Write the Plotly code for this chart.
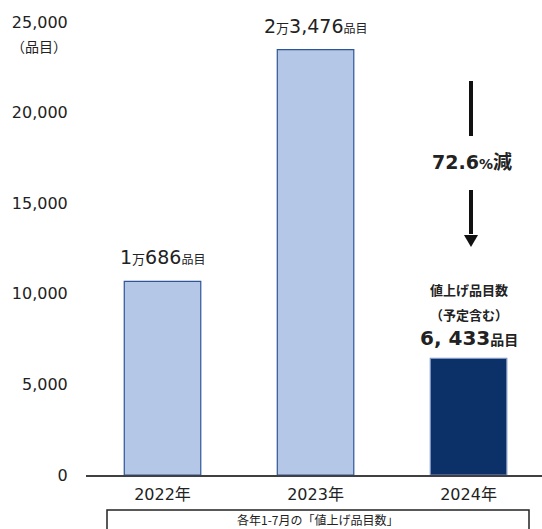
import plotly.graph_objects as go

years = ["2022年", "2023年", "2024年"]
values = [10686, 23476, 6433]
bar_labels = [
    "1<span style='font-size:13px'>万</span>686<span style='font-size:12px'>品目</span>",
    "2<span style='font-size:13px'>万</span>3,476<span style='font-size:12px'>品目</span>",
]
tick_vals = [0, 5000, 10000, 15000, 20000, 25000]
tick_text = ["0", "5,000", "10,000", "15,000", "20,000", "25,000"]
fill_colors = ["#b4c7e7", "#b4c7e7", "#0c3169"]
line_colors = ["#2f5597", "#2f5597", "#7f96c0"]

FONT = "DejaVu Sans, Noto Sans CJK JP, sans-serif"
TXT = "#222222"

fig = go.Figure()
fig.add_trace(go.Bar(
    x=list(range(len(years))), y=values, width=0.5,
    marker=dict(color=fill_colors, line=dict(color=line_colors, width=1.2)),
    hoverinfo="skip",
))

annotations = []
for i, lab in enumerate(bar_labels):
    annotations.append(dict(x=i, y=values[i], xref="x", yref="y", text=lab,
                            showarrow=False, yanchor="bottom", yshift=11,
                            font=dict(family=FONT, size=19, color=TXT)))

# 2024 label block
annotations.append(dict(x=2.0, y=values[2], xref="x", yref="y",
                        text="<b>6, 433<span style='font-size:14px'>品目</span></b>",
                        showarrow=False, yanchor="bottom", yshift=6,
                        font=dict(family=FONT, size=20, color=TXT)))
annotations.append(dict(x=2.0, y=values[2], xref="x", yref="y",
                        text="<b>値上げ品目数</b>", showarrow=False, yanchor="middle", yshift=69,
                        font=dict(family="Noto Sans CJK JP", size=13, color=TXT)))
annotations.append(dict(x=2.0, y=values[2], xref="x", yref="y",
                        text="<b>（予定含む）</b>", showarrow=False, yanchor="middle", yshift=44,
                        font=dict(family="Noto Sans CJK JP", size=13, color=TXT)))

# decrease annotation
pct = (values[1] - values[2]) / values[1] * 100
annotations.append(dict(x=2.02, y=17250, xref="x", yref="y",
                        text=f"<b>{pct:.1f}<span style='font-size:14px'>%</span>減</b>",
                        showarrow=False, yanchor="middle",
                        font=dict(family=FONT, size=19, color=TXT)))

# unit label
annotations.append(dict(x=-0.103, y=(475 - 46) / 453, xref="paper", yref="paper", text="（品目）",
                        showarrow=False, yanchor="middle", xanchor="center",
                        font=dict(family="Noto Sans CJK JP", size=14, color=TXT)))

# bottom note
annotations.append(dict(x=(318 - 86) / 456, y=(475 - 519) / 453, xref="paper", yref="paper",
                        text="各年1-7月の「値上げ品目数」",
                        showarrow=False, yanchor="middle", xanchor="center",
                        font=dict(family="Noto Sans CJK JP", size=12, color=TXT)))

shapes = [
    # arrow upper segment
    dict(type="line", xref="x", yref="y", x0=2.016, x1=2.016, y0=21744, y1=18709,
         line=dict(color="#111111", width=4)),
    # arrow lower segment
    dict(type="line", xref="x", yref="y", x0=2.016, x1=2.016, y0=15729, y1=13300,
         line=dict(color="#111111", width=4)),
    # arrowhead
    dict(type="path", xref="x", yref="y",
         path="M 1.970 13245 L 2.062 13245 L 2.016 12583 Z",
         fillcolor="#111111", line=dict(color="#111111", width=0)),
    # bottom box (extends beyond the bottom edge)
    dict(type="rect", xref="paper", yref="paper",
         x0=(107 - 86) / 456, x1=(529 - 86) / 456,
         y0=(475 - 545) / 453, y1=(475 - 510) / 453,
         line=dict(color="#222222", width=1.5), fillcolor="rgba(0,0,0,0)"),
]

fig.update_layout(
    width=542, height=529,
    margin=dict(l=86, r=0, t=22, b=54),
    paper_bgcolor="white", plot_bgcolor="white",
    showlegend=False,
    bargap=0.5,
    annotations=annotations,
    shapes=shapes,
    font=dict(family=FONT, color=TXT),
    xaxis=dict(range=[-0.5, 2.48], tickmode="array", tickvals=list(range(len(years))),
               ticktext=years, showgrid=False, zeroline=False,
               showline=True, linecolor="#404040", linewidth=1.5,
               ticks="outside", ticklen=4, tickcolor="rgba(0,0,0,0)",
               tickfont=dict(family=FONT, size=16, color=TXT), fixedrange=True),
    yaxis=dict(range=[0, 25000], tickmode="array", tickvals=tick_vals, ticktext=tick_text,
               showgrid=False, zeroline=False, showline=False,
               ticks="outside", ticklen=14, tickcolor="rgba(0,0,0,0)",
               tickfont=dict(family=FONT, size=16, color=TXT), fixedrange=True),
)

fig.write_html("out.html")
